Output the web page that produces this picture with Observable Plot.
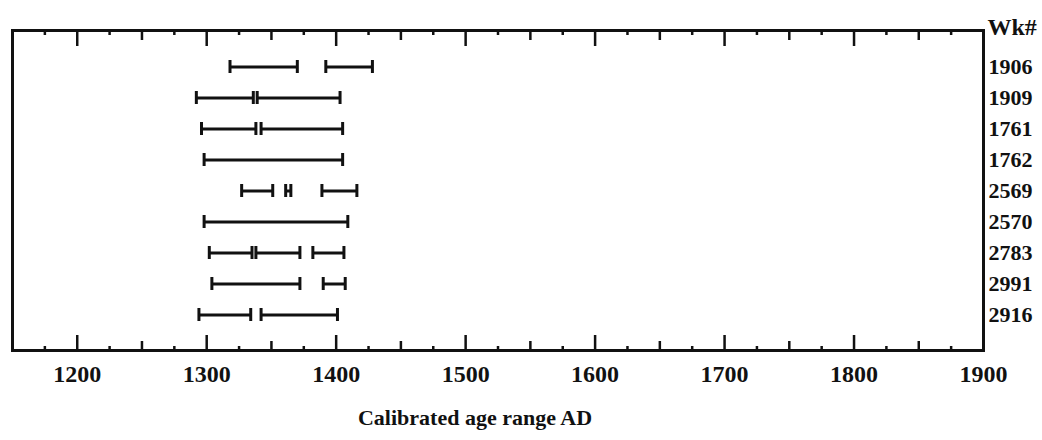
<!DOCTYPE html>
<html>
<head>
<meta charset="utf-8">
<script src="https://cdn.jsdelivr.net/npm/d3@7"></script>
<script src="https://cdn.jsdelivr.net/npm/@observablehq/plot@0.6"></script>
<style>
  html, body { margin: 0; padding: 0; background: #fff; }
</style>
</head>
<body>
<div id="chart"></div>
<script>
// Sample labels (Wk#), top to bottom
const wkNumbers = ["1906", "1909", "1761", "1762", "2569", "2570", "2783", "2991", "2916"];

// Calibrated age range segments (AD)
const segmentWk    = ["1906", "1906", "1909", "1909", "1761", "1761", "1762", "2569", "2569", "2569", "2570", "2783", "2783", "2783", "2991", "2991", "2916", "2916"];
const segmentStart = [1318, 1392, 1292, 1339, 1296, 1342, 1298, 1327, 1361, 1389, 1298, 1302, 1338, 1382, 1304, 1390, 1294, 1342];
const segmentEnd   = [1370, 1428, 1336, 1403, 1338, 1405, 1405, 1351, 1365, 1416, 1409, 1335, 1372, 1406, 1372, 1407, 1334, 1401];

// Axis ticks
const majorTicks  = [1200, 1300, 1400, 1500, 1600, 1700, 1800, 1900];
const mediumTicks = [1250, 1350, 1450, 1550, 1650, 1750, 1850];
const minorTicks  = [1175, 1225, 1275, 1325, 1375, 1425, 1475, 1525, 1575, 1625, 1675, 1725, 1775, 1825, 1875];
const xDomain = [1150, 1900];

const xTitle = "Calibrated age range AD";
const yTitle = "Wk#";

const segments = segmentWk.map((wk, i) => ({wk, start: segmentStart[i], end: segmentEnd[i]}));

const ink = "#111";
const tickAxes = [];
for (const anchor of ["top", "bottom"]) {
  for (const [ticks, size] of [[majorTicks, 15], [mediumTicks, 9], [minorTicks, 4]]) {
    tickAxes.push(Plot.axisX({
      anchor, ticks, tickSize: -size, tickFormat: () => "", label: null,
      strokeWidth: 2.5, stroke: ink
    }));
  }
}

const chart = Plot.plot({
  width: 1042,
  height: 440,
  marginLeft: 12,
  marginRight: 59,
  marginTop: 30,
  marginBottom: 90,
  style: {
    fontFamily: '"Liberation Serif", "Times New Roman", serif',
    fontSize: "22px",
    fontWeight: "bold",
    background: "#fff",
    color: ink
  },
  x: {domain: xDomain, axis: null},
  y: {type: "band", domain: wkNumbers, paddingInner: 0.59, paddingOuter: 0.81, axis: null},
  marks: [
    ...tickAxes,
    Plot.axisX({anchor: "bottom", ticks: majorTicks, tickSize: 0, tickPadding: 14, label: null, fontSize: 24, tickFormat: d => String(d)}),
    Plot.axisY({anchor: "right", tickSize: 0, tickPadding: 5, label: null, fontSize: 22}),
    Plot.frame({stroke: ink, strokeWidth: 3}),
    Plot.ruleY(segments, {y: "wk", x1: "start", x2: "end", stroke: ink, strokeWidth: 3}),
    Plot.tickX(segments, {x: "start", y: "wk", stroke: ink, strokeWidth: 3}),
    Plot.tickX(segments, {x: "end", y: "wk", stroke: ink, strokeWidth: 3}),
    Plot.text([yTitle], {text: d => d, frameAnchor: "top-right", textAnchor: "start", dx: 4, dy: -13, fontSize: 24}),
    Plot.text([xTitle], {text: d => d, frameAnchor: "bottom", dx: -23, dy: 74, fontSize: 22})
  ]
});
document.getElementById("chart").appendChild(chart);
</script>
</body>
</html>
